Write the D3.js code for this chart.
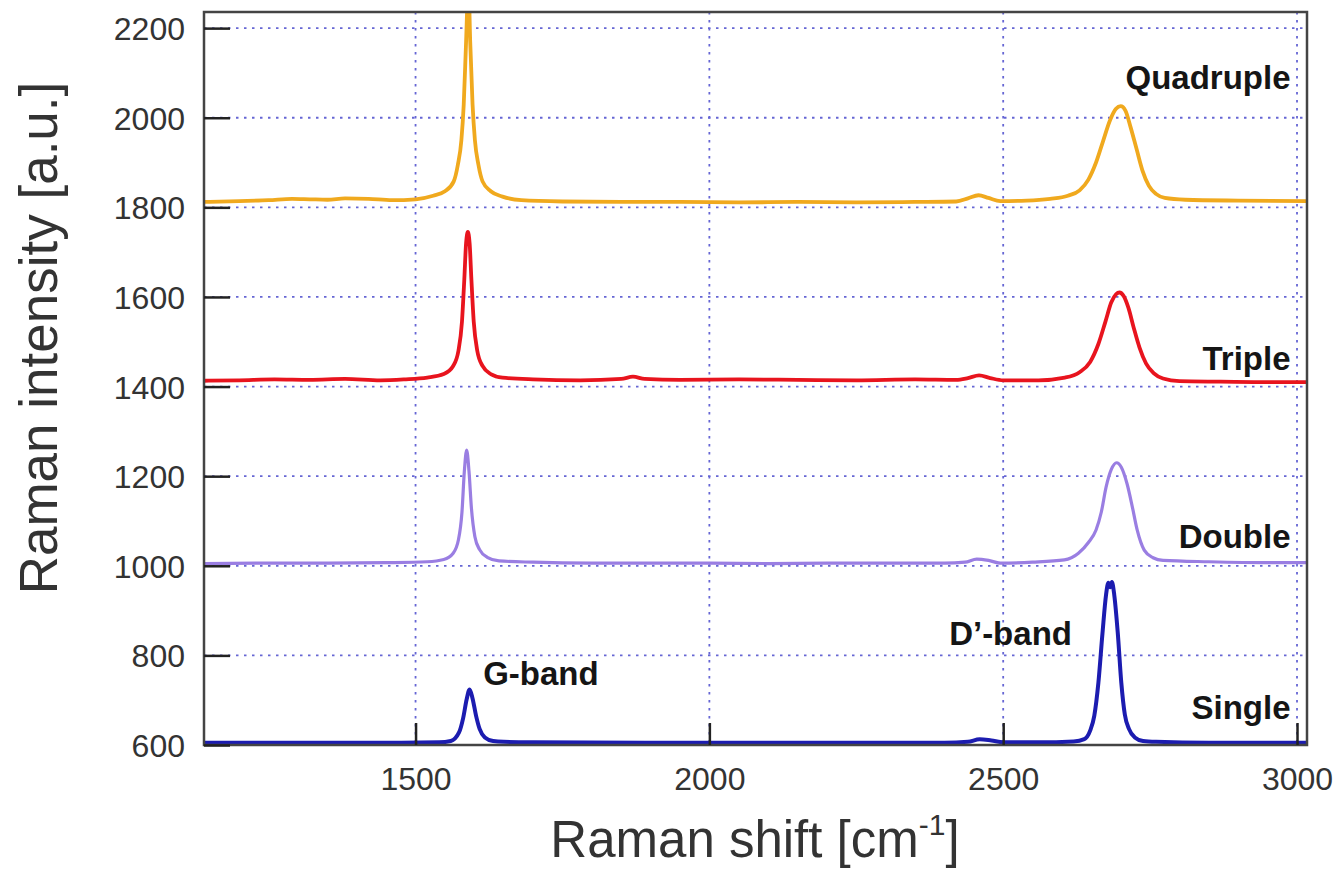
<!DOCTYPE html>
<html>
<head>
<meta charset="utf-8">
<script src="https://cdn.jsdelivr.net/npm/d3@7"></script>
<style>
  body { margin: 0; background: #fff; }
  svg { display: block; }
  text { font-family: "Liberation Sans", Arial, sans-serif; }
</style>
</head>
<body>
<svg id="chart" viewBox="0 0 1338 875" width="1338" height="875"></svg>
<script>
// spectra: [Raman shift (cm-1), intensity (a.u.)]
const quadruple = [
  [1140,1812],[1200,1814],[1250,1816],[1290,1819],[1320,1818],[1350,1817],[1380,1820],[1420,1819],
  [1460,1816],[1500,1818],[1530,1826],[1550,1836],[1565,1858],[1572,1895],[1578,1950],[1582,2030],
  [1586,2170],[1590,2300],[1593,2170],[1597,2030],[1601,1950],[1607,1895],[1614,1858],[1628,1836],
  [1648,1824],[1680,1816],[1750,1813],[1850,1812],[1950,1812],[2050,1811],[2150,1812],[2250,1811],
  [2350,1812],[2420,1813],[2440,1820],[2458,1827],[2475,1821],[2495,1814],[2540,1815],[2580,1819],
  [2610,1826],[2630,1838],[2645,1862],[2658,1900],[2670,1948],[2682,1995],[2692,2020],[2700,2026],
  [2708,2016],[2717,1978],[2727,1930],[2737,1882],[2748,1848],[2760,1830],[2775,1821],[2810,1817],
  [2900,1815],[3017,1814]
];
const triple = [
  [1140,1413],[1200,1414],[1260,1416],[1320,1415],[1380,1417],[1440,1414],[1480,1416],[1520,1420],
  [1548,1428],[1564,1446],[1573,1480],[1579,1545],[1583,1640],[1586,1720],[1589,1745],[1592,1720],
  [1595,1640],[1599,1545],[1605,1480],[1614,1446],[1628,1428],[1648,1420],[1700,1416],[1780,1414],
  [1850,1417],[1870,1422],[1890,1417],[1950,1415],[2050,1416],[2150,1415],[2250,1414],[2350,1416],
  [2420,1415],[2440,1419],[2459,1425],[2478,1419],[2500,1414],[2560,1414],[2605,1420],[2630,1432],
  [2648,1455],[2662,1495],[2674,1545],[2684,1588],[2692,1606],[2698,1610],[2705,1602],[2713,1576],
  [2722,1532],[2732,1487],[2743,1452],[2756,1430],[2772,1418],[2800,1412],[2870,1411],[2950,1410],
  [3017,1410]
];
const double = [
  [1140,1005],[1250,1006],[1350,1006],[1450,1007],[1520,1009],[1548,1014],[1564,1028],[1573,1058],
  [1579,1120],[1583,1210],[1587,1258],[1591,1210],[1595,1130],[1601,1065],[1609,1036],[1622,1019],
  [1642,1011],[1700,1008],[1800,1006],[1900,1006],[2000,1006],[2100,1005],[2200,1006],[2300,1006],
  [2400,1006],[2435,1008],[2455,1015],[2475,1012],[2495,1006],[2550,1008],[2604,1013],[2628,1028],
  [2645,1052],[2658,1080],[2667,1120],[2675,1175],[2684,1215],[2693,1230],[2701,1220],[2711,1182],
  [2720,1130],[2728,1080],[2740,1035],[2755,1018],[2772,1012],[2850,1009],[2950,1007],[3017,1007]
];
const single = [
  [1140,605],[1300,605],[1450,605],[1540,606],[1560,609],[1574,628],[1581,660],[1587,702],
  [1592,724],[1597,704],[1603,665],[1609,636],[1618,617],[1632,609],[1650,607],[1700,606],
  [1900,605],[2100,605],[2300,605],[2400,605],[2440,607],[2460,613],[2480,610],[2500,606],
  [2560,606],[2620,608],[2638,613],[2648,632],[2655,665],[2662,739],[2669,850],[2675,935],
  [2679,962],[2682,952],[2685,964],[2689,935],[2695,850],[2701,739],[2707,668],[2714,636],
  [2724,617],[2738,609],[2760,607],[2850,605],[3017,605]
];

const seriesNames = ["Quadruple", "Triple", "Double", "Single"];
const xTicks = [1500, 2000, 2500, 3000];
const yTicks = [600, 800, 1000, 1200, 1400, 1600, 1800, 2000, 2200];

const svg = d3.select("#chart");
const plotL = 204, plotR = 1307, plotT = 12, plotB = 745;

const x = d3.scaleLinear().domain([1140, 3017]).range([plotL, plotR]);
const y = d3.scaleLinear().domain([600, 2236]).range([plotB, plotT]);

svg.append("defs").append("clipPath").attr("id", "plotclip")
  .append("rect").attr("x", plotL).attr("y", plotT)
  .attr("width", plotR - plotL).attr("height", plotB - plotT);

// dotted grid
const grid = svg.append("g")
  .attr("stroke", "#6666d4").attr("stroke-width", 1.8)
  .attr("stroke-dasharray", "2.5,5.5");
grid.selectAll(".gx").data(xTicks).enter().append("line")
  .attr("x1", d => x(d)).attr("x2", d => x(d))
  .attr("y1", plotT).attr("y2", plotB);
grid.selectAll(".gy").data(yTicks.slice(1)).enter().append("line")
  .attr("x1", plotL).attr("x2", plotR)
  .attr("y1", d => y(d)).attr("y2", d => y(d));

// spectra
const line = d3.line()
  .x(d => x(d[0])).y(d => y(d[1]))
  .curve(d3.curveMonotoneX);

const spectra = [
  { name: "Quadruple", data: quadruple, color: "#f0a91e", width: 3.8 },
  { name: "Triple", data: triple, color: "#e8141e", width: 3.8 },
  { name: "Double", data: double, color: "#9a7ee2", width: 3.2 },
  { name: "Single", data: single, color: "#1c1cb0", width: 4 }
];

const curves = svg.append("g").attr("clip-path", "url(#plotclip)");
curves.selectAll("path").data(spectra).enter().append("path")
  .attr("d", d => line(d.data))
  .attr("fill", "none")
  .attr("stroke", d => d.color)
  .attr("stroke-width", d => d.width)
  .attr("stroke-linejoin", "round");

// frame
svg.append("rect")
  .attr("x", plotL).attr("y", plotT)
  .attr("width", plotR - plotL).attr("height", plotB - plotT)
  .attr("fill", "none").attr("stroke", "#444").attr("stroke-width", 2.5);

// axes with inward ticks
const xAxis = d3.axisBottom(x).tickValues(xTicks).tickFormat(d3.format("d"))
  .tickSizeInner(-22).tickSizeOuter(0);
const yAxis = d3.axisLeft(y).tickValues(yTicks).tickFormat(d3.format("d"))
  .tickSizeInner(-26).tickSizeOuter(0);

const gx = svg.append("g").attr("transform", `translate(0,${plotB})`).call(xAxis);
const gy = svg.append("g").attr("transform", `translate(${plotL},0)`).call(yAxis);
[gx, gy].forEach(g => {
  g.select(".domain").remove();
  g.selectAll(".tick line").attr("stroke", "#222").attr("stroke-width", 2.5);
  g.selectAll(".tick text")
    .attr("font-family", "Liberation Sans, Arial, sans-serif")
    .attr("font-size", 32).attr("fill", "#333");
});
gy.selectAll(".tick text").attr("x", -19).attr("dy", "0.36em");
gx.selectAll(".tick text").attr("y", 22).attr("dy", "0.71em");

// series labels
const labelY = { Quadruple: 2064, Triple: 1438, Double: 1040, Single: 658 };
svg.append("g").selectAll("text").data(seriesNames).enter().append("text")
  .attr("x", x(2989)).attr("y", d => y(labelY[d]))
  .attr("text-anchor", "end")
  .attr("font-size", 33).attr("font-weight", "bold").attr("fill", "#151515")
  .text(d => d);

svg.append("text").attr("x", x(1615)).attr("y", y(734))
  .attr("font-size", 33).attr("font-weight", "bold").attr("fill", "#151515")
  .text("G-band");
svg.append("text").attr("x", x(2408)).attr("y", y(823))
  .attr("font-size", 33).attr("font-weight", "bold").attr("fill", "#151515")
  .text("D\u2019-band");

// axis titles
const xt = svg.append("text")
  .attr("x", 755).attr("y", 857)
  .attr("text-anchor", "middle")
  .attr("font-size", 51).attr("fill", "#333");
xt.append("tspan").text("Raman shift [cm");
xt.append("tspan").attr("font-size", 30).attr("dy", -22).text("-1");
xt.append("tspan").attr("dy", 22).text("]");

svg.append("text")
  .attr("transform", "translate(57,338) rotate(-90)")
  .attr("text-anchor", "middle")
  .attr("font-size", 53).attr("fill", "#333")
  .text("Raman intensity [a.u.]");
</script>
</body>
</html>
